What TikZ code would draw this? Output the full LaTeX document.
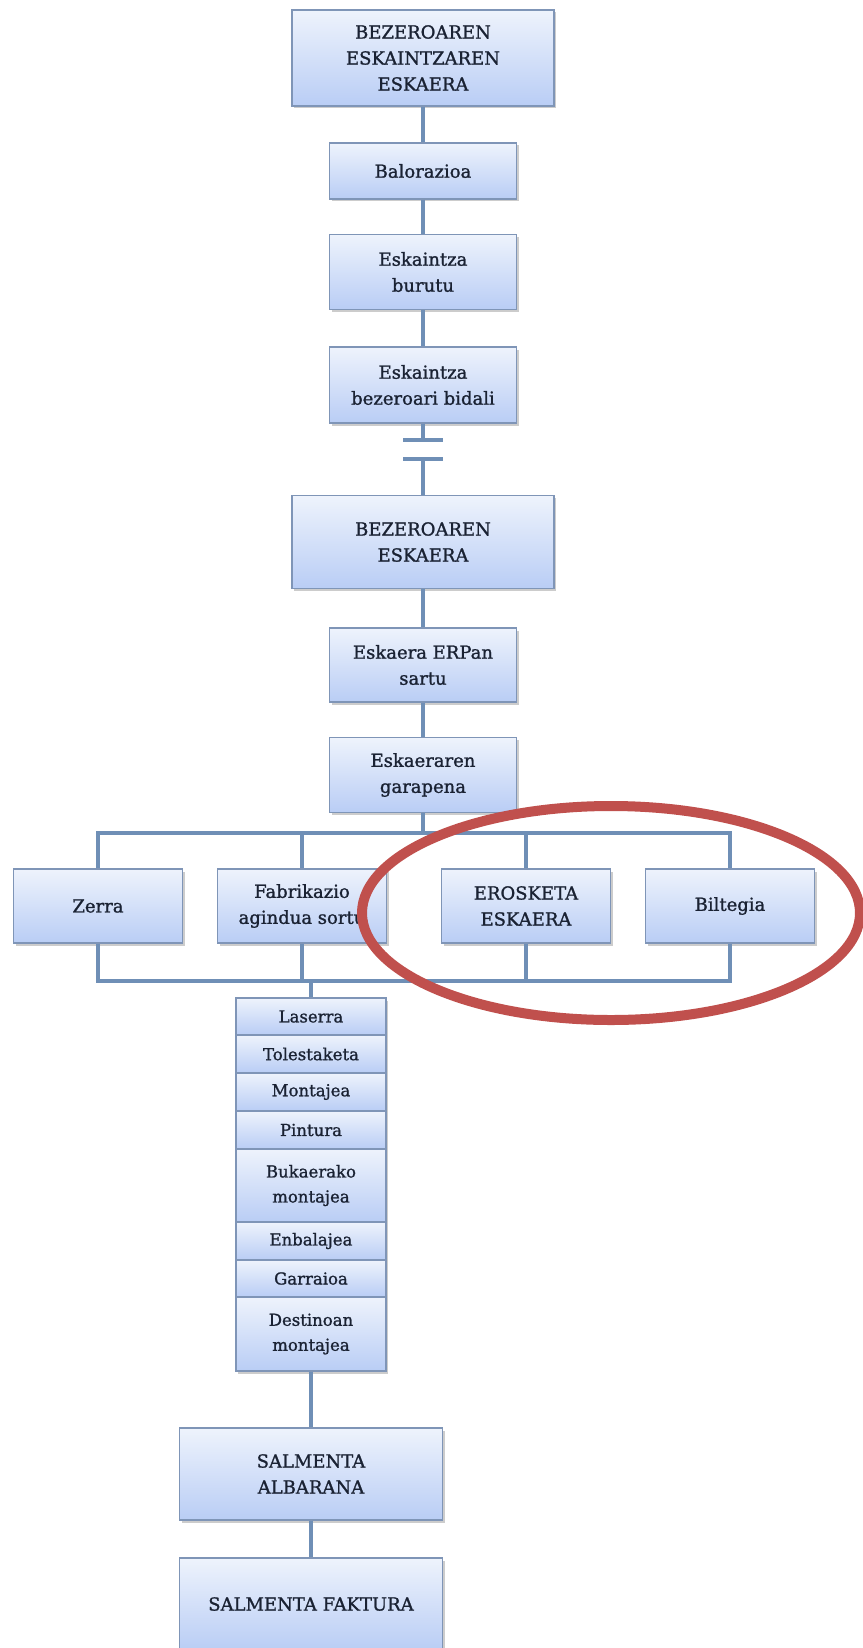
\documentclass[tikz,border=0pt]{standalone}
\usepackage{fontspec}
\setmainfont{DejaVu Serif}[BoldFont=DejaVu Serif, BoldFeatures={FakeBold=1.2}]
\usetikzlibrary{shadows}
\definecolor{bxtop}{HTML}{EEF3FC}
\definecolor{bxbot}{HTML}{B9CDF5}
\definecolor{bxline}{HTML}{7F95B7}
\definecolor{lnblue}{HTML}{6F8FB6}
\definecolor{txnavy}{HTML}{1A2233}
\definecolor{mkred}{HTML}{C0504D}

\begin{document}
\begin{tikzpicture}[x=1pt, y=-1pt,
  proc/.style={rectangle, draw=bxline, line width=1.3pt, top color=bxtop, bottom color=bxbot,
    drop shadow={opacity=0.4, shadow xshift=2pt, shadow yshift=-2.5pt},
    minimum width=#1, inner sep=2pt, align=center, text=txnavy, font=\fontsize{18}{26}\selectfont\bfseries},
  proc/.default=187pt,
  stk/.style={proc=150pt, font=\fontsize{16.5}{25}\selectfont\bfseries},
  conn/.style={draw=lnblue, line width=4pt},
  ring/.style={draw=mkred, line width=10pt},
]
  \useasboundingbox (0,0) rectangle (862,1648);

  % Offer request
  \node[proc=262pt, minimum height=96pt] (oreq) at (423, 58) {BEZEROAREN\\ESKAINTZAREN\\ESKAERA};
  \node[proc, minimum height=56pt] (bal) at (423, 171) {Balorazioa};
  \node[proc, minimum height=75pt] (burutu) at (423, 272) {Eskaintza\\burutu};
  \node[proc, minimum height=76pt] (bidali) at (423, 385) {Eskaintza\\bezeroari bidali};

  % Break in the flow
  \coordinate (cutA) at (423, 440);
  \coordinate (cutB) at (423, 459);

  % Customer order
  \node[proc=262pt, minimum height=93pt] (order) at (423, 542) {BEZEROAREN\\ESKAERA};
  \node[proc, minimum height=74pt] (erp) at (423, 665) {Eskaera ERPan\\sartu};
  \node[proc, minimum height=75pt] (garap) at (423, 775) {Eskaeraren\\garapena};

  % Branches
  \coordinate (topbus) at (423, 833);
  \coordinate (botbus) at (311, 981);
  \node[proc=169pt, minimum height=74pt] (zerra) at (98, 906) {Zerra};
  \node[proc=169pt, minimum height=74pt] (fabrik) at (302, 906) {Fabrikazio\\agindua sortu};
  \node[proc=169pt, minimum height=74pt] (erosk) at (526, 906) {EROSKETA\\ESKAERA};
  \node[proc=169pt, minimum height=74pt] (bilt) at (730, 906) {Biltegia};

  % Production steps
  \node[stk, minimum height=37pt] (laserra) at (311, 1016.5) {Laserra};
  \node[stk, minimum height=38pt] (tolest) at (311, 1054) {Tolestaketa};
  \node[stk, minimum height=38pt] (montaj) at (311, 1092) {Montajea};
  \node[stk, minimum height=38pt] (pintura) at (311, 1130) {Pintura};
  \node[stk, minimum height=73pt] (bukaer) at (311, 1185.5) {Bukaerako\\montajea};
  \node[stk, minimum height=38pt] (enbal) at (311, 1241) {Enbalajea};
  \node[stk, minimum height=37pt] (garraio) at (311, 1278.5) {Garraioa};
  \node[stk, minimum height=74pt] (destin) at (311, 1334) {Destinoan\\montajea};

  % Sales documents
  \node[proc=263pt, minimum height=92pt] (albar) at (311, 1474) {SALMENTA\\ALBARANA};
  \node[proc=263pt, minimum height=92pt] (faktur) at (311, 1604) {SALMENTA FAKTURA};

  % Connectors
  \draw[conn] (oreq) -- (bal);
  \draw[conn] (bal) -- (burutu);
  \draw[conn] (burutu) -- (bidali);
  \draw[conn] (bidali) -- (cutA);
  \draw[conn] ([xshift=-20pt]cutA) -- ([xshift=20pt]cutA);
  \draw[conn] ([xshift=-20pt]cutB) -- ([xshift=20pt]cutB);
  \draw[conn] (cutB) -- (order);
  \draw[conn] (order) -- (erp);
  \draw[conn] (erp) -- (garap);

  \draw[conn] (garap) -- (topbus);
  \draw[conn] (zerra.north) |- (bilt.north |- topbus) -- (bilt.north);
  \draw[conn] (zerra.south) |- (bilt.south |- botbus) -- (bilt.south);
  \foreach \b in {fabrik, erosk} {
    \draw[conn] (\b.north) -- (\b.north |- topbus);
    \draw[conn] (\b.south) -- (\b.south |- botbus);
  }
  \draw[conn] (botbus) -- (laserra);

  \draw[conn] (destin) -- (albar);
  \draw[conn] (albar) -- (faktur);

  % Highlight
  \draw[ring] (611, 913) ellipse [x radius=249, y radius=107];
\end{tikzpicture}
\end{document}
